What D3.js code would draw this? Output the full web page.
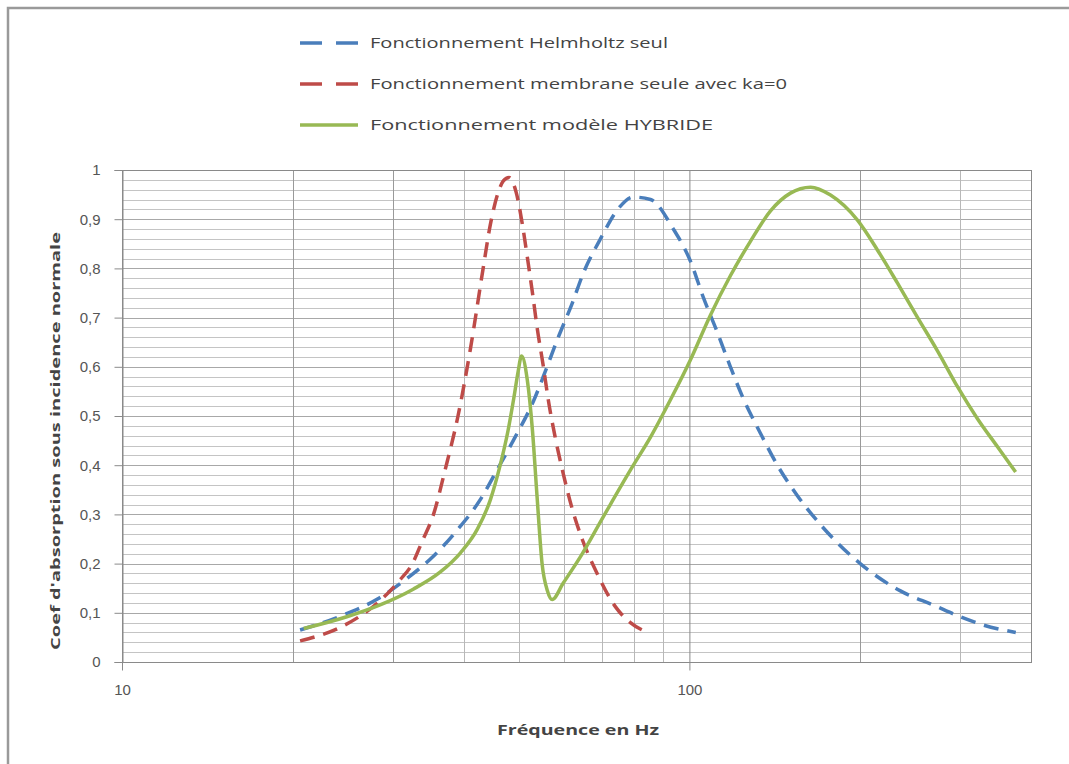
<!DOCTYPE html>
<html>
<head>
<meta charset="utf-8">
<script src="https://cdn.jsdelivr.net/npm/d3@7"></script>
<style>
  body { margin: 0; background: #fff; }
  svg { display: block; font-family: "Open Sans", "Liberation Sans", sans-serif; }
</style>
</head>
<body>
<div id="chart"></div>
<script>
// frequencies (Hz) and absorption values
const helmholtzFreq = [20.6, 24.5, 28.2, 31.8, 35.6, 39.1, 42.8, 45.8, 49.3, 53.1, 55.7, 58.5, 62.2, 65.0, 69.7, 75.0, 79.6, 85.4, 93.7, 100.4, 105.9, 112, 118.1, 124.5, 133.4, 142.9, 155, 170, 200, 235, 270, 300, 330, 376];
const helmholtzVals = [0.065, 0.095, 0.128, 0.17, 0.218, 0.27, 0.33, 0.39, 0.457, 0.53, 0.59, 0.655, 0.73, 0.79, 0.86, 0.922, 0.945, 0.94, 0.88, 0.815, 0.74, 0.67, 0.60, 0.535, 0.465, 0.40, 0.338, 0.28, 0.2, 0.145, 0.115, 0.092, 0.075, 0.06];

const membraneFreq = [20.6, 24.5, 28.2, 30.9, 32.5, 33.8, 35.4, 37.1, 39.1, 41.1, 43.3, 44.6, 45.9, 47.0, 48.1, 49.5, 50.8, 51.8, 52.9, 53.9, 55.3, 56.4, 58.0, 59.9, 62.2, 64.8, 68.3, 74.1, 78.7, 83.6];
const membraneVals = [0.043, 0.073, 0.12, 0.167, 0.2, 0.245, 0.30, 0.39, 0.50, 0.635, 0.80, 0.89, 0.95, 0.978, 0.985, 0.955, 0.888, 0.823, 0.75, 0.68, 0.60, 0.533, 0.457, 0.384, 0.31, 0.248, 0.187, 0.112, 0.08, 0.062];

const hybrideFreq = [20.9, 24.9, 28.5, 32.6, 36.4, 39.5, 42.3, 44.6, 46.4, 47.9, 49.1, 49.9, 50.6, 51.8, 52.9, 53.9, 55.0, 56.2, 57.3, 59.9, 64.2, 70.5, 78.7, 85.4, 92.6, 100.4, 108.9, 118.1, 128.1, 139, 150.7, 163.5, 177.3, 197.8, 214.6, 232.7, 252.5, 273.8, 297, 322.1, 349.4, 375.8];
const hybrideVals = [0.068, 0.092, 0.116, 0.148, 0.183, 0.222, 0.27, 0.33, 0.40, 0.47, 0.54, 0.59, 0.622, 0.573, 0.47, 0.335, 0.2, 0.145, 0.127, 0.16, 0.213, 0.295, 0.39, 0.457, 0.533, 0.614, 0.705, 0.785, 0.855, 0.917, 0.953, 0.965, 0.949, 0.898, 0.837, 0.77, 0.70, 0.632, 0.559, 0.494, 0.437, 0.386];

const xTickValues = [10, 100];
const xGridValues = [20, 30, 40, 50, 60, 70, 80, 90, 200, 300];
const yTickValues = [0, 0.1, 0.2, 0.3, 0.4, 0.5, 0.6, 0.7, 0.8, 0.9, 1];

const seriesNames = ["Fonctionnement Helmholtz seul", "Fonctionnement membrane seule avec ka=0", "Fonctionnement modèle HYBRIDE"];

const width = 1069, height = 764;
const plot = { left: 122, right: 1031, top: 170, bottom: 662 };

const svg = d3.select("#chart").append("svg")
  .attr("width", width)
  .attr("height", height);

// outer frame (only top/left edges visible)
svg.append("path")
  .attr("d", `M8,${height} L8,8 L${width},8`)
  .attr("fill", "none")
  .attr("stroke", "#9a9a9a")
  .attr("stroke-width", 2.5);

const x = d3.scaleLog().domain([10, 400]).range([plot.left, plot.right]);
const y = d3.scaleLinear().domain([0, 1]).range([plot.bottom, plot.top]);

// horizontal grid every 0.02
const grid = svg.append("g");
grid.selectAll("line.h")
  .data(d3.range(0, 51).map(i => i / 50))
  .join("line")
  .attr("x1", plot.left).attr("x2", plot.right)
  .attr("y1", d => Math.round(y(d)) + 0.5).attr("y2", d => Math.round(y(d)) + 0.5)
  .attr("stroke", (d, i) => i % 5 === 0 ? "#a8a8a8" : "#c4c4c4")
  .attr("stroke-width", 1);

grid.selectAll("line.v")
  .data(xGridValues)
  .join("line")
  .attr("x1", d => Math.round(x(d)) + 0.5).attr("x2", d => Math.round(x(d)) + 0.5)
  .attr("y1", plot.top).attr("y2", plot.bottom)
  .attr("stroke", d => (d === 20 || d === 30 || d === 200) ? "#9a9a9a" : "#b8b8b8")
  .attr("stroke-width", 1);

// plot frame
svg.append("rect")
  .attr("x", plot.left + 0.5).attr("y", plot.top + 0.5)
  .attr("width", plot.right - plot.left).attr("height", plot.bottom - plot.top)
  .attr("fill", "none")
  .attr("stroke", "#8a8a8a");

svg.append("line")
  .attr("x1", x(100) + 0.5).attr("x2", x(100) + 0.5)
  .attr("y1", plot.top).attr("y2", plot.bottom)
  .attr("stroke", "#8a8a8a");

// axes
const yAxis = d3.axisLeft(y)
  .tickValues(yTickValues)
  .tickSize(8)
  .tickPadding(14)
  .tickFormat(d => d3.format(".1~f")(d).replace(".", ","));

svg.append("g")
  .attr("transform", `translate(${plot.left + 0.5},0)`)
  .call(yAxis)
  .call(g => g.select(".domain").attr("stroke", "#8a8a8a"))
  .call(g => g.selectAll(".tick line").attr("stroke", "#8a8a8a"))
  .call(g => g.selectAll(".tick text")
    .attr("font-size", 15).attr("fill", "#555"));

const xAxis = d3.axisBottom(x)
  .tickValues(xTickValues)
  .tickSize(8)
  .tickPadding(14)
  .tickFormat(d3.format("d"));

svg.append("g")
  .attr("transform", `translate(0,${plot.bottom + 0.5})`)
  .call(xAxis)
  .call(g => g.select(".domain").remove())
  .call(g => g.selectAll(".tick line").attr("stroke", "#8a8a8a"))
  .call(g => g.selectAll(".tick text")
    .attr("font-size", 15).attr("fill", "#555"));

// axis titles
svg.append("text")
  .attr("x", 578).attr("y", 735)
  .attr("text-anchor", "middle")
  .attr("font-size", 14).attr("font-weight", "bold").attr("fill", "#444")
  .attr("textLength", 162).attr("lengthAdjust", "spacingAndGlyphs")
  .text("Fréquence en Hz");

svg.append("text")
  .attr("transform", "translate(60,441) rotate(-90)")
  .attr("text-anchor", "middle")
  .attr("font-size", 13).attr("font-weight", "bold").attr("fill", "#444")
  .attr("textLength", 418).attr("lengthAdjust", "spacingAndGlyphs")
  .text("Coef d'absorption sous incidence normale");

// series
const series = [
  { name: seriesNames[0], freq: helmholtzFreq, vals: helmholtzVals, color: "#4a7ebb", dash: "15,9" },
  { name: seriesNames[1], freq: membraneFreq, vals: membraneVals, color: "#be4b48", dash: "15,9" },
  { name: seriesNames[2], freq: hybrideFreq, vals: hybrideVals, color: "#98b954", dash: null },
];

const line = d3.line()
  .x(d => x(d[0]))
  .y(d => y(d[1]))
  .curve(d3.curveMonotoneX);

svg.append("g").selectAll("path")
  .data(series)
  .join("path")
  .attr("d", s => line(s.freq.map((f, i) => [f, s.vals[i]])))
  .attr("fill", "none")
  .attr("stroke", s => s.color)
  .attr("stroke-width", 3.5)
  .attr("stroke-linejoin", "round")
  .attr("stroke-dasharray", s => s.dash);

// legend
const legendWidths = [298, 417, 343];
const legend = svg.append("g").selectAll("g")
  .data(series)
  .join("g")
  .attr("transform", (s, i) => `translate(300,${43 + i * 41})`);

legend.append("line")
  .attr("x1", 0).attr("x2", 58)
  .attr("stroke", s => s.color)
  .attr("stroke-width", 3.5)
  .attr("stroke-dasharray", s => s.dash ? "22,14" : null);

legend.append("text")
  .attr("x", 70).attr("dy", "0.35em")
  .attr("font-size", 15).attr("fill", "#444")
  .attr("textLength", (s, i) => legendWidths[i])
  .attr("lengthAdjust", "spacingAndGlyphs")
  .text(s => s.name);
</script>
</body>
</html>
